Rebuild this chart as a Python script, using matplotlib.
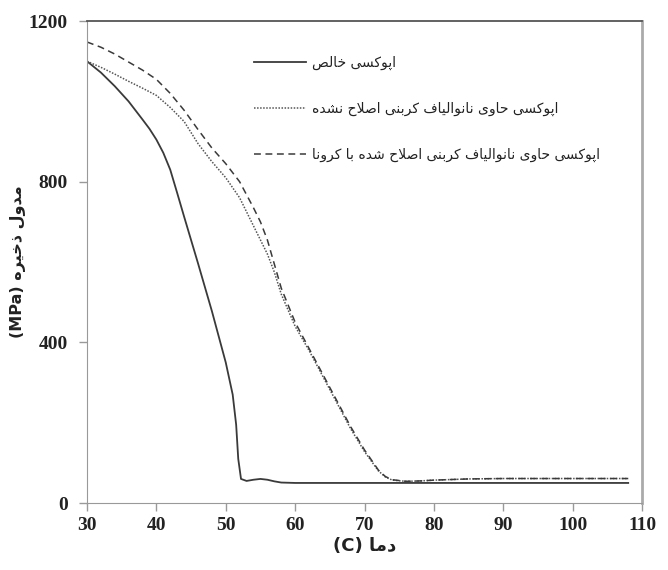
import matplotlib
matplotlib.use("Agg")
import matplotlib.pyplot as plt

# --- data (temperature in C, storage modulus in MPa)
temp_pure = [30, 32, 34, 36, 38, 39, 40, 41, 42, 43, 44, 46, 48, 50, 51, 51.5,
             51.8, 52.2, 53, 54, 55, 56, 57, 58, 60, 65, 70, 80, 90, 100, 108]
mod_pure = [1100, 1072, 1038, 1000, 955, 932, 905, 872, 830, 772, 713, 597, 478,
            350, 270, 195, 110, 60, 55, 58, 60, 58, 54, 51, 50, 50, 50, 50, 50,
            50, 50]

temp_cnf = [30, 32, 34, 36, 38, 40, 42, 44, 46, 48, 50, 52, 54, 55, 56, 57, 58,
            60, 62, 64, 66, 68, 70, 72, 73, 74, 76, 78, 80, 85, 90, 100, 108]
mod_cnf = [1100, 1085, 1068, 1050, 1033, 1015, 985, 950, 895, 850, 810, 760, 690,
           655, 620, 575, 520, 440, 380, 315, 250, 185, 128, 80, 65, 57, 54, 55,
           57, 60, 61, 61, 61]

temp_corona = temp_cnf
mod_corona = [1148, 1135, 1118, 1098, 1078, 1055, 1020, 978, 930, 884, 845, 800,
              735, 700, 655, 595, 535, 450, 385, 320, 255, 190, 132, 82, 66, 58,
              54, 55, 57, 60, 61, 61, 61]

labels = ["اپوکسی خالص",
          "اپوکسی حاوی نانوالیاف کربنی اصلاح نشده",
          "اپوکسی حاوی نانوالیاف کربنی اصلاح شده با کرونا"]
xlabel_fa = "دما"
ylabel_fa = "مدول ذخیره"
xticks = [30, 40, 50, 60, 70, 80, 90, 100, 110]
yticks = [0, 400, 800, 1200]

# --- tiny Persian shaper: matplotlib has no text shaping, so map letters to
# presentation forms (isolated, final, initial, medial) and reverse for display
FORMS = {
    'ا': ('\uFE8D', '\uFE8E', None, None),
    'ب': ('\uFE8F', '\uFE90', '\uFE91', '\uFE92'),
    'پ': ('\uFB56', '\uFB57', '\uFB58', '\uFB59'),
    'ح': ('\uFEA1', '\uFEA2', '\uFEA3', '\uFEA4'),
    'خ': ('\uFEA5', '\uFEA6', '\uFEA7', '\uFEA8'),
    'د': ('\uFEA9', '\uFEAA', None, None),
    'ذ': ('\uFEAB', '\uFEAC', None, None),
    'ر': ('\uFEAD', '\uFEAE', None, None),
    'س': ('\uFEB1', '\uFEB2', '\uFEB3', '\uFEB4'),
    'ش': ('\uFEB5', '\uFEB6', '\uFEB7', '\uFEB8'),
    'ص': ('\uFEB9', '\uFEBA', '\uFEBB', '\uFEBC'),
    'ف': ('\uFED1', '\uFED2', '\uFED3', '\uFED4'),
    'ک': ('\uFB8E', '\uFB8F', '\uFB90', '\uFB91'),
    'ل': ('\uFEDD', '\uFEDE', '\uFEDF', '\uFEE0'),
    'م': ('\uFEE1', '\uFEE2', '\uFEE3', '\uFEE4'),
    'ن': ('\uFEE5', '\uFEE6', '\uFEE7', '\uFEE8'),
    'ه': ('\uFEE9', '\uFEEA', '\uFEEB', '\uFEEC'),
    'و': ('\uFEED', '\uFEEE', None, None),
    'ی': ('\uFBFC', '\uFBFD', '\uFBFE', '\uFBFF'),
}


def fa(text):
    out = []
    i = 0
    while i < len(text):
        c = text[i]
        prev = text[i - 1] if i > 0 else ''
        nxt = text[i + 1] if i + 1 < len(text) else ''
        join_prev = c in FORMS and prev in FORMS and FORMS[prev][2] is not None
        if c == 'ل' and nxt == 'ا':
            out.append('\uFEFC' if join_prev else '\uFEFB')
            i += 2
            continue
        if c not in FORMS:
            out.append(c)
            i += 1
            continue
        join_next = FORMS[c][2] is not None and nxt in FORMS
        if join_prev and join_next:
            out.append(FORMS[c][3])
        elif join_prev:
            out.append(FORMS[c][1])
        elif join_next:
            out.append(FORMS[c][2])
        else:
            out.append(FORMS[c][0])
        i += 1
    return ''.join(reversed(out))


fa_font = ['DejaVu Sans']
num_font = ['Liberation Serif', 'DejaVu Serif']

fig = plt.figure(figsize=(6.68, 5.70), dpi=100)
ax = fig.add_axes([0.1302, 0.1175, 0.831, 0.8455])

ax.plot(temp_pure, mod_pure, color='#3a3a3a', lw=1.3, ls='-', label=fa(labels[0]))
ax.plot(temp_cnf, mod_cnf, color='#555555', lw=1.1, ls=(0, (1, 1)), label=fa(labels[1]))
ax.plot(temp_corona, mod_corona, color='#3a3a3a', lw=1.1, ls=(0, (4.5, 3)), label=fa(labels[2]))

ax.set_xlim(30, 110)
ax.set_ylim(0, 1200)
ax.set_xticks(xticks)
ax.set_yticks(yticks)
for lab in ax.get_xticklabels() + ax.get_yticklabels():
    lab.set_family(num_font)
    lab.set_fontweight('bold')
    lab.set_fontsize(14)
    lab.set_color('#222222')
ax.tick_params(direction='out', length=6, width=1, color='#999999')
ax.tick_params(axis='x', pad=4)
ax.tick_params(axis='y', pad=8)

ax.spines['left'].set_color('#999999')
ax.spines['bottom'].set_color('#999999')
ax.spines['top'].set_color('#555555')
ax.spines['top'].set_linewidth(1.3)
ax.spines['right'].set_color('#aaaaaa')
ax.spines['right'].set_linewidth(2)

ax.set_xlabel("(C) " + fa(xlabel_fa), family=fa_font, fontweight='bold',
              fontsize=13, color='#222222', labelpad=2)
ax.set_ylabel("(MPa) " + fa(ylabel_fa), family=fa_font, fontweight='bold',
              fontsize=11.5, color='#222222', labelpad=2)

leg = ax.legend(loc='upper left', bbox_to_anchor=(0.29, 0.94), frameon=False,
                prop={'family': fa_font, 'size': 10}, handlelength=3.8,
                handletextpad=0.4, labelspacing=2.3, borderaxespad=0)
for t in leg.get_texts():
    t.set_color('#222222')

fig.savefig("out.png", dpi=100)
